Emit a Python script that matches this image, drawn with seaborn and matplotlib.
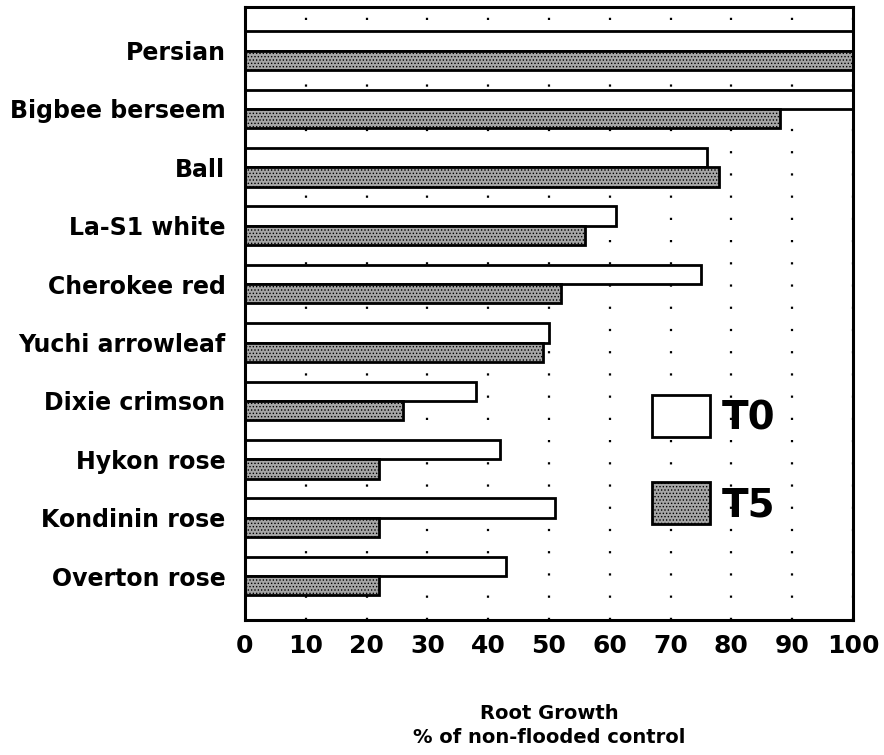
import pandas as pd
import matplotlib
matplotlib.use("Agg")
import matplotlib.pyplot as plt
import seaborn as sns

cultivars = ['Persian', 'Bigbee berseem', 'Ball', 'La-S1 white', 'Cherokee red',
             'Yuchi arrowleaf', 'Dixie crimson', 'Hykon rose', 'Kondinin rose', 'Overton rose']
t0 = [100, 100, 76, 61, 75, 50, 38, 42, 51, 43]
t5 = [100, 88, 78, 56, 52, 49, 26, 22, 22, 22]
treatments = ['T0', 'T5']
xticks = list(range(0, 101, 10))

df = pd.DataFrame({
    'cultivar': cultivars * 2,
    'growth': t0 + t5,
    'treatment': ['T0'] * len(cultivars) + ['T5'] * len(cultivars),
})

sns.set_style('white')
plt.rcParams['font.family'] = ['DejaVu Sans']
plt.rcParams['font.weight'] = 'bold'
plt.rcParams['text.color'] = 'black'
plt.rcParams['xtick.color'] = 'black'
plt.rcParams['ytick.color'] = 'black'
plt.rcParams['axes.labelcolor'] = 'black'
plt.rcParams['hatch.linewidth'] = 0.6

fig = plt.figure(figsize=(8.84, 7.55), dpi=100)
ax = fig.add_axes([0.277, 0.179, 0.688, 0.812])

sns.barplot(data=df, y='cultivar', x='growth', hue='treatment', order=cultivars,
            hue_order=treatments, orient='h', width=0.66,
            palette={'T0': 'white', 'T5': '#a6a6a6'},
            edgecolor='black', linewidth=2, legend=False, ax=ax)

# stippled look for the flooded bars
for bar in ax.containers[1]:
    bar.set_hatch('.....')

ax.set_xlim(0, 100)
ax.set_ylim(len(cultivars) - 0.25, -0.75)
ax.set_xticks(xticks)
ax.set_xticklabels([str(v) for v in xticks], fontsize=18, fontweight='bold')
ax.set_yticks(range(len(cultivars)))
ax.set_yticklabels(cultivars, fontsize=17, fontweight='bold')
ax.tick_params(axis='y', length=0, pad=14)
ax.tick_params(axis='x', length=0, pad=10)
ax.set_ylabel('')
ax.set_xlabel('Root Growth\n% of non-flooded control', fontsize=14, fontweight='bold',
              labelpad=33, linespacing=1.35)

ax.set_axisbelow(True)
ax.xaxis.grid(True, color='black', linestyle=(0, (1, 9)), linewidth=1.6)
ax.yaxis.grid(False)
for sp in ax.spines.values():
    sp.set_visible(True)
    sp.set_color('black')
    sp.set_linewidth(2.2)

ax.legend(ax.containers, treatments, loc='upper left', bbox_to_anchor=(0.669, 0.367),
          frameon=False, fontsize=28, handlelength=1.5, handleheight=1.3,
          labelspacing=1.15, handletextpad=0.3, borderaxespad=0, borderpad=0)

fig.savefig('out.png', dpi=100)
